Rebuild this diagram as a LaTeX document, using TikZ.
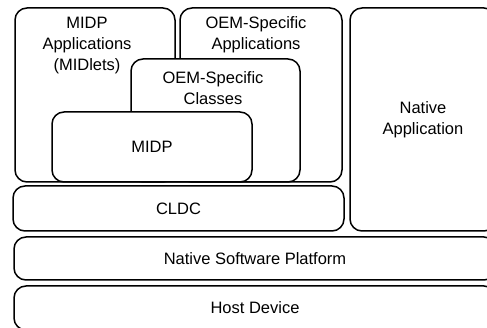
\documentclass[tikz,border=0pt]{standalone}
\usepackage{fontspec}
\setmainfont{Liberation Sans}
\begin{document}
\begin{tikzpicture}[x=1pt,y=-1pt,
  layer/.style={rectangle,draw,rounded corners=12pt,line width=1.5pt,fill=white,inner sep=0pt},
  txt/.style={align=center,font=\fontsize{16.5}{21}\selectfont}]
\useasboundingbox (0,0) rectangle (487,328);
\coordinate (A) at (95,95);
\coordinate (B) at (261,95);
\coordinate (C) at (215.5,120.5);
\coordinate (D) at (152,147);
\coordinate (E) at (423,119.5);
\coordinate (F) at (178.5,208.5);
\coordinate (G) at (255,258.5);
\coordinate (H) at (255,308);


\node[layer,minimum width=160pt,minimum height=174pt] (A1) at (A) {};
\node[layer,minimum width=162pt,minimum height=174pt] (B1) at (B) {};
\node[layer,minimum width=169pt,minimum height=123pt] (C1) at (C) {};
\node[layer,minimum width=200pt,minimum height=70pt,txt] (D1) at (D) {MIDP};
\node[layer,minimum width=146pt,minimum height=223pt,txt] (E1) at (E) {Native\\Application};
\node[layer,minimum width=331pt,minimum height=45pt,txt] (F1) at (F) {CLDC};
\node[layer,minimum width=482pt,minimum height=43pt,txt] (G1) at (G) {Native Software Platform};
\node[layer,minimum width=482pt,minimum height=44pt,txt] (H1) at (H) {Host Device};

\node[txt] (A2) at (87,46) {MIDP\\Applications\\(MIDlets)};
\node[txt] (B2) at (256,35) {OEM-Specific\\Applications};
\node[txt] (C2) at (213,88) {OEM-Specific\\Classes};


\end{tikzpicture}
\end{document}
